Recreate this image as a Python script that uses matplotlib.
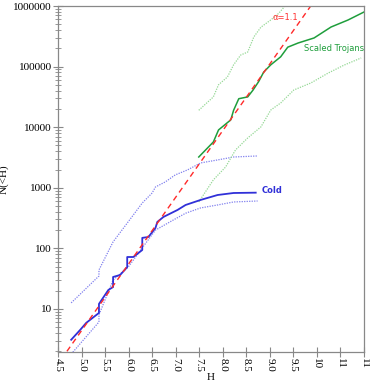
import matplotlib
matplotlib.use("Agg")
import matplotlib.pyplot as plt
from matplotlib.ticker import LogLocator, NullFormatter, FixedLocator, FixedFormatter

# Cold population: cumulative counts, with upper/lower bounds
cold_H = [4.78, 4.97, 5.10, 5.37, 5.37, 5.57, 5.67, 5.67, 5.82, 5.97, 5.97, 6.10,
          6.29, 6.29, 6.42, 6.57, 6.61, 6.74, 7.04, 7.21, 7.53, 7.89, 8.23, 8.70]
cold_N = [3.1, 4.5, 5.9, 8.6, 12.1, 20.6, 23, 33.7, 36.4, 49, 72, 72,
          94, 149, 154, 217, 273, 330, 431, 520, 630, 760, 820, 830]

cold_hi_H = [4.78, 5.37, 5.37, 5.67, 6.10, 6.29, 6.50, 6.57, 6.78, 6.99, 7.25,
             7.53, 7.89, 8.23, 8.74]
cold_hi_N = [12.6, 35, 44, 128, 356, 561, 820, 1030, 1250, 1630, 1970,
             2570, 2880, 3220, 3350]

cold_lo_H = [4.78, 5.37, 5.37, 5.67, 5.99, 6.29, 6.57, 6.95, 7.21, 7.53, 7.89, 8.23, 8.74]
cold_lo_N = [1.8, 6.1, 8.0, 30, 49, 102, 200, 294, 380, 465, 520, 583, 605]

# Scaled Trojans with bounds
troj_H = [7.49, 7.80, 7.91, 8.17, 8.23, 8.34, 8.53, 8.64, 8.76, 8.87, 9.02,
          9.23, 9.38, 9.60, 9.94, 10.30, 10.66, 11.0]
troj_N = [3220, 5700, 9000, 13200, 19000, 29500, 31600, 40700, 56200, 81300, 107000,
          145000, 209000, 245000, 297000, 450000, 587000, 796000]

troj_hi_H = [7.49, 7.80, 7.91, 8.10, 8.23, 8.38, 8.53, 8.66, 8.81, 9.02, 9.19, 9.30, 9.35]
troj_hi_N = [19000, 31600, 50100, 67600, 107000, 155000, 174000, 309000, 447000,
             589000, 759000, 955000, 1100000]

troj_lo_H = [7.49, 7.80, 8.06, 8.27, 8.53, 8.81, 9.02, 9.23, 9.51, 9.87, 10.24, 10.58, 10.94]
troj_lo_N = [583, 1350, 2200, 4200, 6640, 10100, 19200, 25100, 41100, 53600, 78300,
             106000, 139000]

# alpha = 1.1 reference power law (end points)
ref_H = [4.69, 9.95]
ref_N = [2.0, 1.23e6]

xticks = [4.5, 5.0, 5.5, 6.0, 6.5, 7.0, 7.5, 8.0, 8.5, 9.0, 9.5, 10.0, 10.5, 11.0]
xticklabels = ["4.5", "5.0", "5.5", "6.0", "6.5", "7.0", "7.5", "8.0", "8.5",
               "9.0", "9.5", "10", "11", "11"]
yticks = [10, 100, 1000, 10000, 100000, 1000000]
yticklabels = ["10", "100", "1000", "10000", "100000", "1000000"]

plt.rcParams["font.family"] = "serif"
plt.rcParams["font.serif"] = ["Liberation Serif", "DejaVu Serif"]

fig = plt.figure(figsize=(3.70, 3.82), dpi=100)
ax = fig.add_axes([58 / 370, 30.3 / 382, 306 / 370, 345.7 / 382])

dot = (0, (1, 1))
ax.plot(cold_hi_H, cold_hi_N, color="#8080ee", lw=0.9, ls=dot)
ax.plot(cold_lo_H, cold_lo_N, color="#8080ee", lw=0.9, ls=dot)
ax.plot(troj_hi_H, troj_hi_N, color="#95d895", lw=0.9, ls=dot)
ax.plot(troj_lo_H, troj_lo_N, color="#95d895", lw=0.9, ls=dot)
ax.plot(cold_H, cold_N, color="#3030d8", lw=1.3)
ax.plot(troj_H, troj_N, color="#1f9e3c", lw=1.1)
ax.plot(ref_H, ref_N, color="#ff2a2a", lw=1.0, ls=(0, (4, 3)))

ax.text(8.82, 900, "Cold", color="#3030d8", fontsize=6, fontweight="bold",
        family="DejaVu Sans", va="center")
ax.text(9.72, 200000, "Scaled Trojans", color="#1f9e3c", fontsize=6,
        family="DejaVu Sans", va="center")
ax.text(9.05, 640000, "\u03b1=1.1", color="#ff3030", fontsize=6,
        family="DejaVu Sans", va="center")

ax.set_yscale("log")
ax.set_xlim(4.5, 11.0)
ax.set_ylim(1.97, 1e6)

ax.xaxis.set_major_locator(FixedLocator(xticks))
ax.xaxis.set_major_formatter(FixedFormatter(xticklabels))
ax.yaxis.set_major_locator(FixedLocator(yticks))
ax.yaxis.set_major_formatter(FixedFormatter(yticklabels))
ax.yaxis.set_minor_locator(LogLocator(base=10, subs=range(2, 10)))
ax.yaxis.set_minor_formatter(NullFormatter())

ax.tick_params(axis="x", which="major", direction="inout", length=7, width=0.8,
               color="#888888", labelsize=8, labelrotation=270, pad=1)
ax.tick_params(axis="y", which="major", direction="inout", length=7, width=0.8,
               color="#888888", labelsize=8, pad=1)
ax.tick_params(axis="y", which="minor", direction="inout", length=4, width=0.6,
               color="#888888")
ax.tick_params(top=False, right=False)

for s in ax.spines.values():
    s.set_color("#888888")
    s.set_linewidth(0.9)

ax.set_xlabel("H", fontsize=8, labelpad=1)
ax.set_ylabel("N(<H)", fontsize=8, labelpad=3)

fig.savefig("out.png", dpi=100)
